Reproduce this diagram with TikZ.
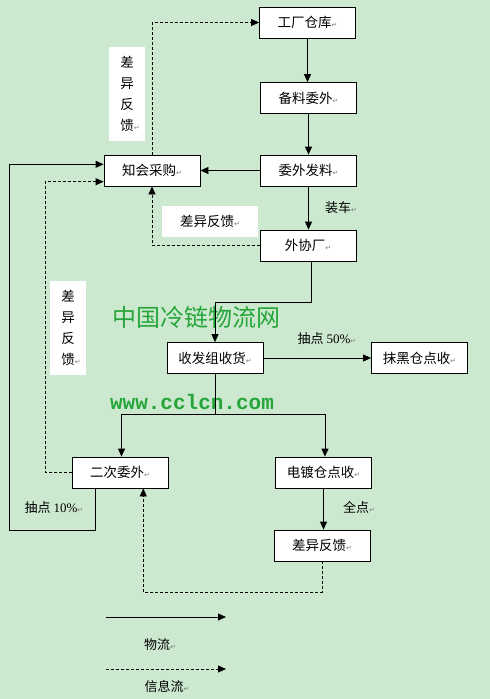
\documentclass[tikz,border=0pt]{standalone}
\usepackage{fontspec}
\setmainfont{Liberation Serif}
\newfontfamily\cjk{Noto Sans CJK SC}
\newfontfamily\dejavu{DejaVu Sans}
\newfontfamily\monob{Liberation Mono}
\usetikzlibrary{arrows.meta}

\definecolor{bg}{RGB}{204,232,207}
\definecolor{mark}{RGB}{38,166,58}
\definecolor{retgray}{RGB}{125,125,125}
\newcommand\ret{{\dejavu\fontsize{7}{7}\selectfont\color{retgray}↵}}

\tikzset{
  flow/.style={line width=0.8pt,-{Triangle[length=8pt,width=7pt]}},
  info/.style={flow,dash pattern=on 3pt off 2pt},
  box/.style={draw,line width=0.8pt,fill=white,minimum width=96pt,minimum height=31pt,
    inner sep=0pt,font=\cjk\fontsize{13.5}{16}\selectfont},
  tag/.style={fill=white,inner sep=0pt,align=center,font=\cjk\fontsize{13.5}{21}\selectfont},
  note/.style={inner sep=0pt,font=\cjk\fontsize{13}{16}\selectfont}
}

\begin{document}
\begin{tikzpicture}[x=1pt,y=-1pt,line cap=butt,line join=miter]
  \useasboundingbox (0,0) rectangle (490,699);
  \fill[bg] (0,0) rectangle (490,699);
  % watermark
  \node[text=mark,inner sep=0pt,font=\cjk\fontsize{24}{24}\selectfont] (wm1) at (196,317) {中国冷链物流网};
  \node[text=mark,inner sep=0pt,font=\monob\bfseries\fontsize{21}{21}\selectfont] (wm2) at (192,402) {www.cclcn.com};
  % boxes
  \node[box] (fac) at (307.5,22.5) {工厂仓库\ret};
  \node[box] (bei) at (308.5,98) {备料委外\ret};
  \node[box] (wfl) at (308.5,170.5) {委外发料\ret};
  \node[box] (zhh) at (152,170.5) {知会采购\ret};
  \node[box] (wxc) at (308,245.5) {外协厂\ret};
  \node[box] (sfz) at (215,358) {收发组收货\ret};
  \node[box] (mhc) at (419.5,358) {抹黑仓点收\ret};
  \node[box] (ecw) at (120,472.5) {二次委外\ret};
  \node[box] (ddc) at (323.5,472.5) {电镀仓点收\ret};
  \node[box] (cyf) at (322,545.5) {差异反馈\ret};
  % white tags
  \node[tag,minimum width=36pt,minimum height=94pt] (tagA) at (127,94) {差\\异\\反\\馈\rlap{\ret}};
  \node[tag,minimum width=96pt,minimum height=31pt] (tagB) at (210,221.5) {差异反馈\ret};
  \node[tag,minimum width=36pt,minimum height=94pt] (tagC) at (68,328) {差\\异\\反\\馈\rlap{\ret}};
  % notes
  \node[note] (zc) at (341,208) {装车\ret};
  \node[note] (cd50) at (327,339) {抽点 {\rmfamily 50\%}\ret};
  \node[note] (cd10) at (54,508) {抽点 {\rmfamily 10\%}\ret};
  \node[note] (qd) at (359,507) {全点\ret};
  % material flow
  \draw[flow] (fac.south) -- (fac.south |- bei.north);
  \draw[flow] (bei.south) -- (bei.south |- wfl.north);
  \draw[flow] (wfl.west) -- (zhh.east);
  \draw[flow] (wfl.south) -- (wfl.south |- wxc.north);
  \draw[flow] ([xshift=3.5pt]wxc.south) -- ++(0,40.5) -| (sfz.north);
  \draw[flow] (sfz.east) -- (mhc.west);
  \draw[line width=0.8pt] (sfz.south) -- ++(0,40) coordinate (split);
  \draw[flow] (split) -| ([xshift=1.5pt]ecw.north);
  \draw[flow] (split) -| ([xshift=1.5pt]ddc.north);
  \draw[flow] (ddc.south) -- (ddc.south |- cyf.north);
  \draw[flow] ([xshift=-24.3pt]ecw.south) -- ++(0,42) -- ++(-86.4,0) |- ([yshift=6.2pt]zhh.west);
  % information flow
  \draw[info] (zhh.north) |- (fac.west);
  \draw[info] (wxc.west) -| (zhh.south);
  \draw[info] (ecw.west) -- ++(-26.3,0) |- ([yshift=-11.2pt]zhh.west);
  \draw[info] (cyf.south) -- ++(0,31) -| ([xshift=23.3pt]ecw.south);
  % legend
  \coordinate (la) at (106,617);
  \coordinate (lb) at (226,617);
  \coordinate (lc) at (106,669);
  \coordinate (ld) at (226,669);
  \draw[flow] (la) -- (lb);
  \draw[info] (lc) -- (ld);
  \node[note] (lflow) at (160,645) {物流\ret};
  \node[note] (linfo) at (167,687) {信息流\ret};
\end{tikzpicture}
\end{document}
